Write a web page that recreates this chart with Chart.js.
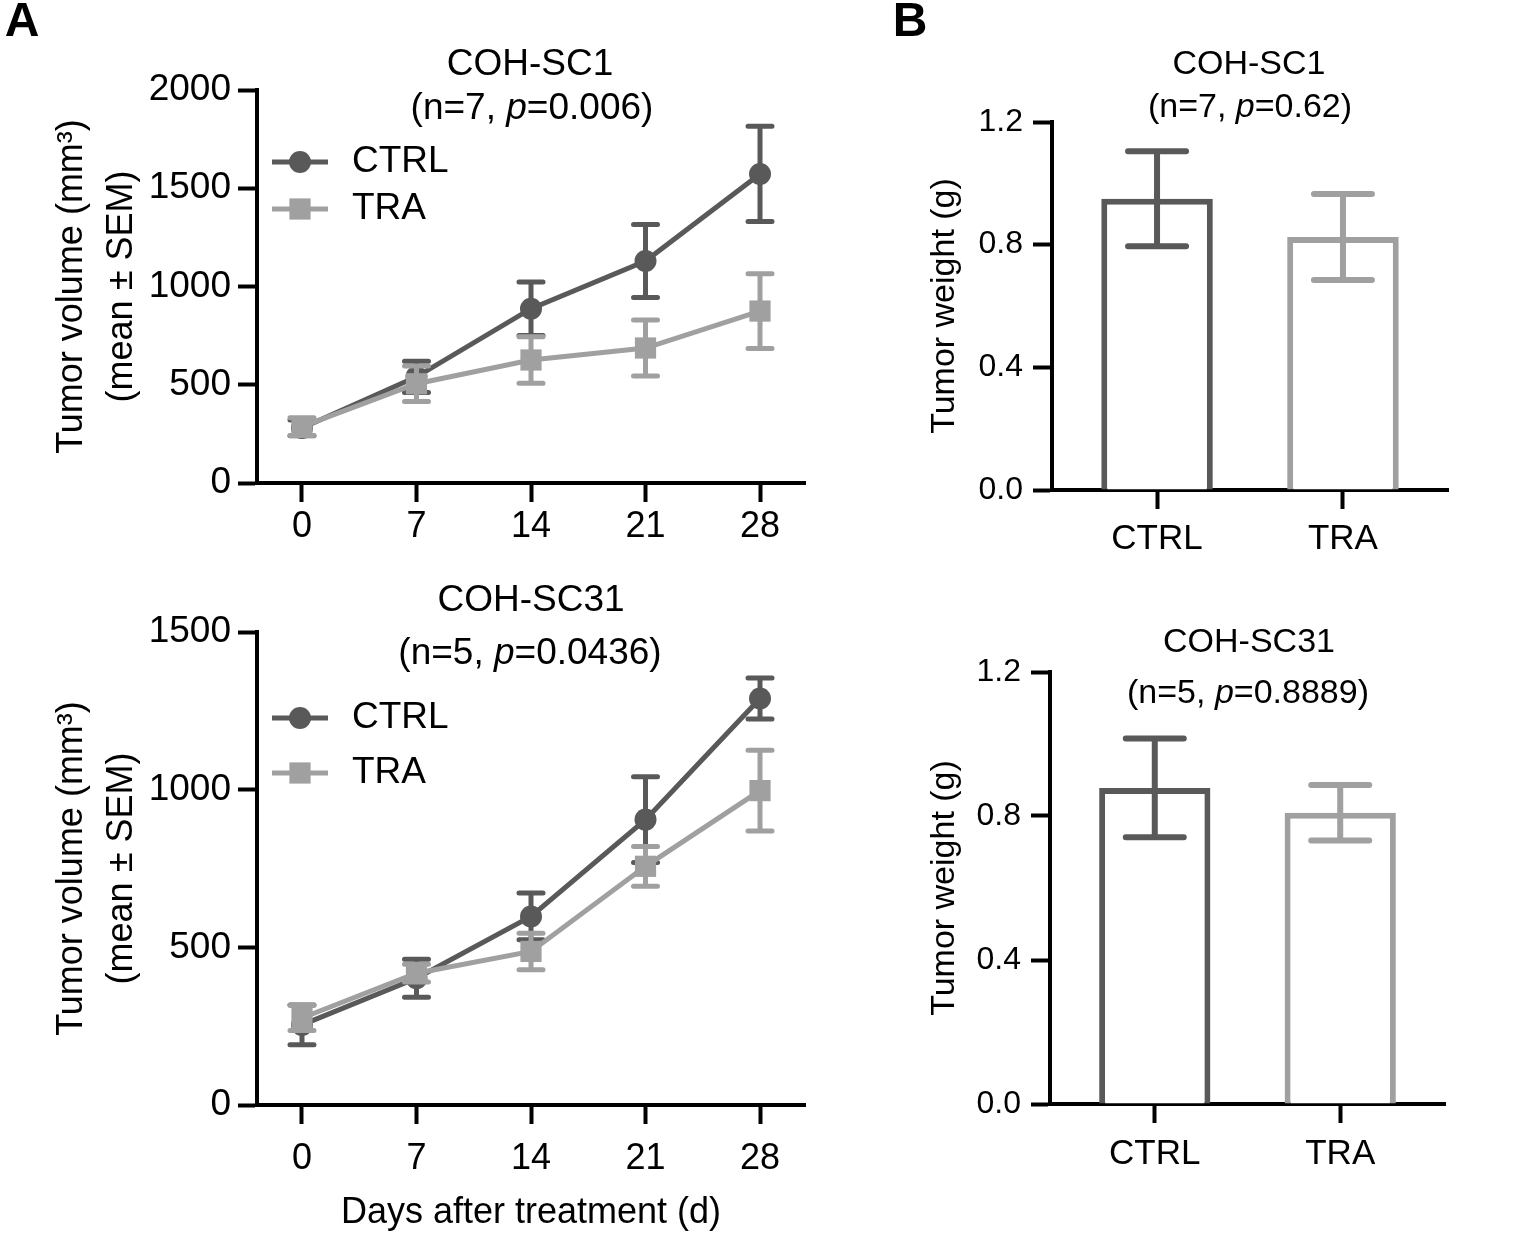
<!DOCTYPE html>
<html>
<head>
<meta charset="utf-8">
<script src="https://cdn.jsdelivr.net/npm/chart.js@4.4.1/dist/chart.umd.min.js"></script>
<style>
  body { margin: 0; background: #fff; font-family: "Liberation Sans", Arial, sans-serif; }
  #fig { position: relative; width: 1534px; height: 1257px; overflow: hidden; }
  canvas { position: absolute; }
  .txt { position: absolute; transform: translate(-50%, -50%); line-height: 1; white-space: nowrap; color: #000; }
  .tag { font-size: 48px; font-weight: bold; }
</style>
</head>
<body>
<div id="fig">
  <canvas id="volSc1" width="830" height="560" style="left:0;top:0"></canvas>
  <canvas id="volSc31" width="830" height="697" style="left:0;top:560px"></canvas>
  <canvas id="wtSc1" width="704" height="560" style="left:830px;top:0"></canvas>
  <canvas id="wtSc31" width="704" height="697" style="left:830px;top:560px"></canvas>

  <div class="txt tag" style="left:22px;top:20px">A</div>
  <div class="txt tag" style="left:910px;top:20px">B</div>

  <div class="txt" style="left:530px;top:62px;font-size:37px">COH-SC1</div>
  <div class="txt" style="left:532px;top:106px;font-size:37px">(n=7, <i>p</i>=0.006)</div>
  <div class="txt" style="left:531px;top:598px;font-size:37px">COH-SC31</div>
  <div class="txt" style="left:530px;top:651px;font-size:37px">(n=5, <i>p</i>=0.0436)</div>

  <div class="txt" style="left:1249px;top:62px;font-size:34px">COH-SC1</div>
  <div class="txt" style="left:1250px;top:105px;font-size:34px">(n=7, <i>p</i>=0.62)</div>
  <div class="txt" style="left:1249px;top:640px;font-size:34px">COH-SC31</div>
  <div class="txt" style="left:1248px;top:691px;font-size:34px">(n=5, <i>p</i>=0.8889)</div>
</div>

<script>
// days after treatment and groups
const days = [0, 7, 14, 21, 28];
const groups = ['CTRL', 'TRA'];

// tumor volume, COH-SC1 (mean, SEM)
const sc1Ctrl = [280, 540, 887, 1130, 1573];
const sc1CtrlSem = [40, 80, 136, 186, 242];
const sc1Tra = [287, 505, 626, 687, 875];
const sc1TraSem = [45, 90, 118, 142, 190];

// tumor volume, COH-SC31
const sc31Ctrl = [254, 402, 598, 905, 1289];
const sc31CtrlSem = [63, 60, 74, 136, 65];
const sc31Tra = [276, 418, 487, 757, 997];
const sc31TraSem = [40, 28, 58, 63, 128];

// tumor weight (g)
const sc1Weight = [0.95, 0.825];
const sc1WeightSem = [0.155, 0.14];
const sc31Weight = [0.878, 0.809];
const sc31WeightSem = [0.137, 0.077];

// tick labels
const volTicksSc1 = [0, 500, 1000, 1500, 2000];
const volTicksSc31 = [0, 500, 1000, 1500];
const weightTicks = [0, 0.4, 0.8, 1.2];

const ctrlColor = '#595959';
const traColor = '#a0a0a0';
const fontFamily = '"Liberation Sans", Arial, sans-serif';

Chart.defaults.font.family = fontFamily;
Chart.defaults.color = '#000';

// mean +/- SEM whiskers, drawn under the line markers or over the bars
const errorBars = {
  id: 'errorBars',
  beforeDatasetDraw(chart, args, opts) {
    if (!opts.over) drawWhiskers(chart, args, opts);
  },
  afterDatasetDraw(chart, args, opts) {
    if (opts.over) drawWhiskers(chart, args, opts);
  }
};

function drawWhiskers(chart, args, opts) {
  const ds = chart.data.datasets[args.index];
  if (!ds.sem) return;
  const ctx = chart.ctx;
  const yScale = chart.scales.y;
  ctx.save();
  ctx.lineWidth = opts.width;
  ctx.lineCap = 'round';
  args.meta.data.forEach((el, i) => {
    const v = args.meta.controller.getParsed(i).y;
    const top = yScale.getPixelForValue(v + ds.sem[i]);
    const bot = yScale.getPixelForValue(v - ds.sem[i]);
    ctx.strokeStyle = Array.isArray(ds.borderColor) ? ds.borderColor[i] : ds.borderColor;
    ctx.beginPath();
    ctx.moveTo(el.x, top);
    ctx.lineTo(el.x, bot);
    ctx.moveTo(el.x - opts.cap, top);
    ctx.lineTo(el.x + opts.cap, top);
    ctx.moveTo(el.x - opts.cap, bot);
    ctx.lineTo(el.x + opts.cap, bot);
    ctx.stroke();
  });
  ctx.restore();
}

// legend with a short line through the marker
const seriesLegend = {
  id: 'seriesLegend',
  afterDatasetsDraw(chart, args, opts) {
    const { ctx, chartArea } = chart;
    ctx.save();
    chart.data.datasets.forEach((ds, i) => {
      const y = chartArea.top + opts.top + i * opts.gap;
      const x0 = chartArea.left + 15;
      const x1 = chartArea.left + 71;
      const xm = (x0 + x1) / 2;
      ctx.strokeStyle = ds.borderColor;
      ctx.lineWidth = ds.borderWidth;
      ctx.beginPath();
      ctx.moveTo(x0, y);
      ctx.lineTo(x1, y);
      ctx.stroke();
      ctx.fillStyle = ds.borderColor;
      if (ds.pointStyle === 'rect') {
        const s = ds.pointRadius * Math.SQRT1_2;
        ctx.fillRect(xm - s, y - s, 2 * s, 2 * s);
      } else {
        ctx.beginPath();
        ctx.arc(xm, y, ds.pointRadius, 0, Math.PI * 2);
        ctx.fill();
      }
      ctx.fillStyle = '#000';
      ctx.font = '37px ' + fontFamily;
      ctx.textBaseline = 'middle';
      ctx.fillText(ds.label, chartArea.left + 95, y);
    });
    ctx.restore();
  }
};

function axisLine(tickLen) {
  return {
    grid: { display: true, drawOnChartArea: false, offset: false, tickLength: tickLen, tickWidth: 4, tickColor: '#000' },
    border: { display: true, color: '#000', width: 4 }
  };
}

function volumeChart(id, ctrl, ctrlSem, tra, traSem, yTicks, box) {
  const yMax = yTicks[yTicks.length - 1];
  const xScale = Object.assign(axisLine(19), {
    type: 'linear',
    min: -2.75,
    max: 30.75,
    afterBuildTicks: s => { s.ticks = days.map(v => ({ value: v })); },
    afterFit: s => { s.height = box.xHeight; },
    ticks: { font: { size: 36 }, padding: box.xPad, callback: v => String(v) },
    title: box.xTitle ? {
      display: true, text: box.xTitle, font: { size: 36 }, padding: { top: 0, bottom: 22 }
    } : { display: false }
  });
  const yScale = Object.assign(axisLine(19), {
    min: 0,
    max: yMax,
    afterBuildTicks: s => { s.ticks = yTicks.map(v => ({ value: v })); },
    afterFit: s => { s.width = 257; },
    ticks: { font: { size: 37 }, padding: 7, callback: v => String(v) },
    title: {
      display: true,
      text: ['Tumor volume (mm\u00B3)', '(mean \u00B1 SEM)'],
      font: { size: 36, lineHeight: 50 / 36 },
      padding: { top: 47, bottom: 0 }
    }
  });
  return new Chart(document.getElementById(id), {
    type: 'line',
    data: {
      datasets: [
        {
          label: groups[0],
          data: days.map((d, i) => ({ x: d, y: ctrl[i] })),
          sem: ctrlSem,
          borderColor: ctrlColor,
          backgroundColor: ctrlColor,
          borderWidth: 5,
          pointStyle: 'circle',
          pointRadius: 11,
          pointBorderWidth: 0,
          order: 1
        },
        {
          label: groups[1],
          data: days.map((d, i) => ({ x: d, y: tra[i] })),
          sem: traSem,
          borderColor: traColor,
          backgroundColor: traColor,
          borderWidth: 5,
          pointStyle: 'rect',
          pointRadius: 15,
          pointBorderWidth: 0,
          order: 0
        }
      ]
    },
    options: {
      responsive: false,
      animation: false,
      layout: { padding: { left: 0, right: 25, top: box.top, bottom: 0 } },
      scales: { x: xScale, y: yScale },
      plugins: {
        legend: { display: false },
        tooltip: { enabled: false },
        errorBars: { width: 5, cap: 12, over: false },
        seriesLegend: { top: box.legendTop, gap: box.legendGap }
      }
    },
    plugins: [errorBars, seriesLegend]
  });
}

function weightChart(id, means, sems, box) {
  const xScale = Object.assign(axisLine(19), {
    type: 'linear',
    offset: false,
    min: -0.565,
    max: 1.565,
    afterBuildTicks: s => { s.ticks = groups.map((g, i) => ({ value: i })); },
    afterFit: s => { s.height = box.xHeight; },
    ticks: { font: { size: 35 }, padding: box.xPad, callback: v => groups[v] }
  });
  const yScale = Object.assign(axisLine(19), {
    min: 0,
    max: 1.2,
    afterBuildTicks: s => { s.ticks = weightTicks.map(v => ({ value: v })); },
    afterFit: s => { s.width = box.yWidth; },
    ticks: { font: { size: 32 }, padding: 10, callback: v => v.toFixed(1) },
    title: {
      display: true,
      text: 'Tumor weight (g)',
      font: { size: 34 },
      padding: { top: 94.6, bottom: 0 }
    }
  });
  return new Chart(document.getElementById(id), {
    type: 'bar',
    data: {
      datasets: [{
        data: means.map((m, i) => ({ x: i, y: m })),
        sem: sems,
        borderColor: [ctrlColor, traColor],
        backgroundColor: '#fff',
        borderWidth: 6,
        barPercentage: 0.6,
        categoryPercentage: 1
      }]
    },
    options: {
      responsive: false,
      animation: false,
      layout: { padding: { left: 0, right: box.right, top: box.top, bottom: 0 } },
      scales: { x: xScale, y: yScale },
      plugins: {
        legend: { display: false },
        tooltip: { enabled: false },
        errorBars: { width: 6, cap: 29, over: true }
      }
    },
    plugins: [errorBars]
  });
}

volumeChart('volSc1', sc1Ctrl, sc1CtrlSem, sc1Tra, sc1TraSem, volTicksSc1,
  { top: 90, xHeight: 77, xPad: 3, legendTop: 72, legendGap: 47 });
volumeChart('volSc31', sc31Ctrl, sc31CtrlSem, sc31Tra, sc31TraSem, volTicksSc31,
  { top: 72, xHeight: 152, xPad: 13, legendTop: 86, legendGap: 55, xTitle: 'Days after treatment (d)' });
weightChart('wtSc1', sc1Weight, sc1WeightSem, { top: 122, right: 86, yWidth: 222, xHeight: 70, xPad: 9 });
weightChart('wtSc31', sc31Weight, sc31WeightSem, { top: 112, right: 89, yWidth: 220, xHeight: 153, xPad: 10 });
</script>
</body>
</html>
